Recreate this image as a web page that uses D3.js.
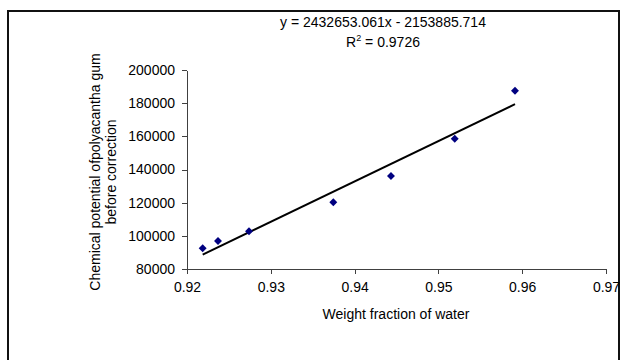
<!doctype html>
<html>
<head>
  <meta charset="UTF-8">
  <script src="https://d3js.org/d3.v7.min.js"></script>
  <style>
    body { margin: 0; background: #fff; }
    text { font-family: "Liberation Sans", Arial, sans-serif; fill: #000; }
    .axis path, .axis line { stroke: #404040; shape-rendering: crispEdges; }
  </style>
</head>
<body>
<svg id="chart" width="621" height="360"></svg>
<script>
// data
const waterFraction = [0.92187, 0.92370, 0.92740, 0.93746, 0.94434, 0.95195, 0.95914];
const chemPotential = [92480, 96880, 102730, 120220, 136080, 158570, 187500];
const xTicks = [0.92, 0.93, 0.94, 0.95, 0.96, 0.97];
const yTicks = [80000, 100000, 120000, 140000, 160000, 180000, 200000];
const slope = 2432653.061;
const intercept = -2153885.714;

var svg = d3.select("#chart");
var margin = {top: 70, right: 15, bottom: 91, left: 187};
var width = 621 - margin.left - margin.right;
var height = 360 - margin.top - margin.bottom;

// chart frame
svg.append("rect")
  .attr("x", 8).attr("y", 11)
  .attr("width", 611).attr("height", 360)
  .attr("fill", "none")
  .attr("stroke", "#111")
  .attr("stroke-width", 2);

var x = d3.scaleLinear().domain([0.92, 0.97]).range([0, width]);
var y = d3.scaleLinear().domain([80000, 200000]).range([height, 0]);

var g = svg.append("g")
  .attr("transform", "translate(" + margin.left + "," + margin.top + ")");

g.append("g")
  .attr("class", "axis")
  .attr("transform", "translate(0," + height + ")")
  .call(d3.axisBottom(x).tickValues(xTicks).tickFormat(d3.format(".2f")).tickSize(5).tickSizeOuter(0).tickPadding(8))
  .selectAll("text").style("font-size", "14px");

g.append("g")
  .attr("class", "axis")
  .call(d3.axisLeft(y).tickValues(yTicks).tickFormat(d3.format("d")).tickSize(5).tickSizeOuter(0).tickPadding(7))
  .selectAll("text").style("font-size", "14px");

g.selectAll(".domain").attr("stroke", "#404040");

// trend line from the fitted equation
var x0 = d3.min(waterFraction), x1 = d3.max(waterFraction);
g.append("line")
  .attr("x1", x(x0)).attr("y1", y(slope * x0 + intercept))
  .attr("x2", x(x1)).attr("y2", y(slope * x1 + intercept))
  .attr("stroke", "#000")
  .attr("stroke-width", 2);

// points
g.selectAll(".pt")
  .data(waterFraction)
  .enter().append("path")
  .attr("class", "pt")
  .attr("d", d3.symbol().type(d3.symbolDiamond2).size(40))
  .attr("transform", function(d, i) { return "translate(" + x(d) + "," + y(chemPotential[i]) + ")"; })
  .attr("fill", "#000080");

// equation label
var eq = svg.append("text")
  .attr("x", 383).attr("y", 27)
  .attr("text-anchor", "middle")
  .style("font-size", "14px")
  .text("y = 2432653.061x - 2153885.714");

var r2 = svg.append("text")
  .attr("x", 383).attr("y", 47)
  .attr("text-anchor", "middle")
  .style("font-size", "14px");
r2.append("tspan").text("R");
r2.append("tspan").attr("dy", -6).style("font-size", "9px").text("2");
r2.append("tspan").attr("dy", 6).text(" = 0.9726");

// axis titles
svg.append("text")
  .attr("x", 396).attr("y", 319)
  .attr("text-anchor", "middle")
  .style("font-size", "14px")
  .text("Weight fraction of water");

var yt = svg.append("text")
  .attr("transform", "translate(100,172) rotate(-90)")
  .attr("text-anchor", "middle")
  .style("font-size", "14px");
yt.append("tspan").attr("x", 0).attr("y", 0).text("Chemical potential ofpolyacantha gum");
yt.append("tspan").attr("x", 0).attr("y", 16).text("before correction");
</script>
</body>
</html>
